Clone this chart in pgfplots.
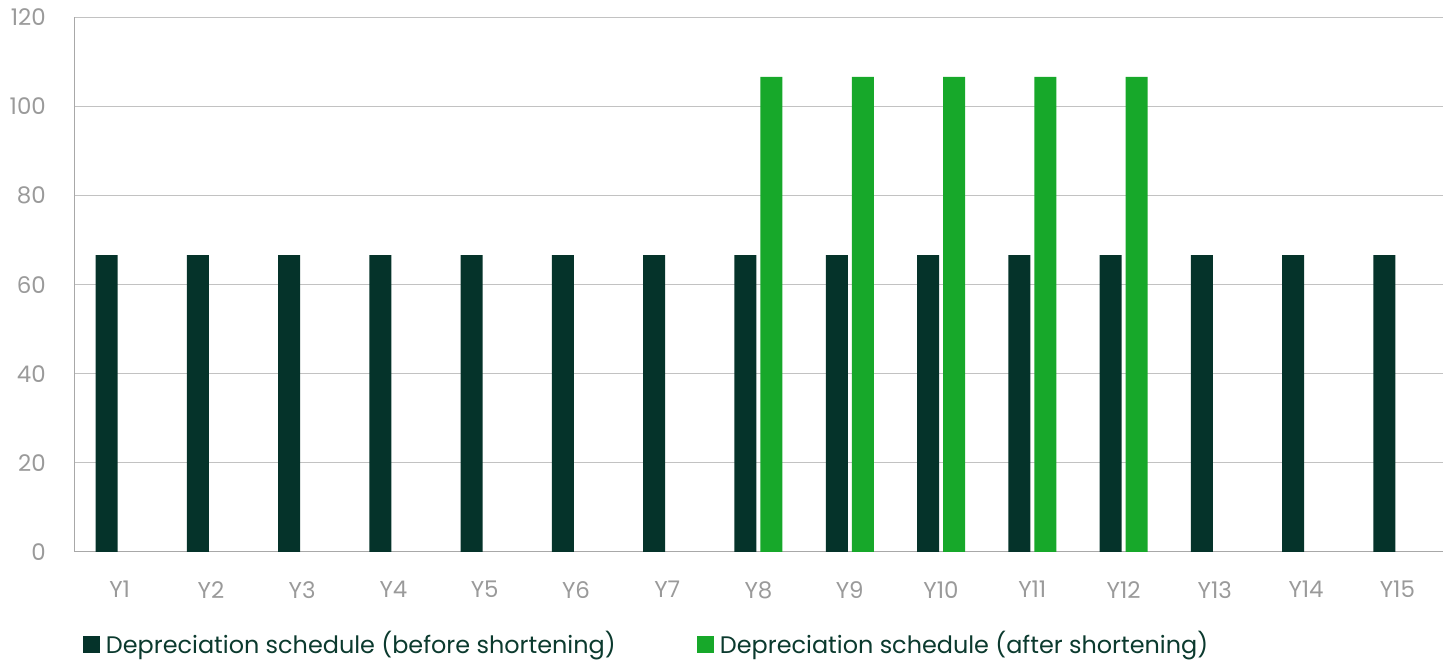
\documentclass[border=0pt]{standalone}
\usepackage{fontspec}
\setmainfont{Poppins}
\usepackage{pgfplots}
\pgfplotsset{compat=1.18}
\definecolor{before}{HTML}{05332A}
\definecolor{after}{HTML}{17A82A}
\definecolor{ticktext}{HTML}{9A9A9A}
\definecolor{gridc}{HTML}{C2C2C2}
\definecolor{axisc}{HTML}{A8A8A8}
\definecolor{legtext}{HTML}{0B3A2E}

\begin{document}
\begin{tikzpicture}
\useasboundingbox (0,0) rectangle (1450bp,663bp);
\begin{axis}[
  at={(74bp,111bp)}, anchor=south west,
  width=1369bp, height=534.5bp, scale only axis,
  xmin=0.5, xmax=15.5, ymin=0, ymax=120,
  ytick={0,20,...,120}, xtick={1,...,15},
  xticklabels={Y1,Y2,Y3,Y4,Y5,Y6,Y7,Y8,Y9,Y10,Y11,Y12,Y13,Y14,Y15},
  ymajorgrids, grid style={gridc, line width=1bp},
  axis x line*=bottom, axis y line*=left,
  axis line style={axisc, line width=1bp, -},
  major tick length=0pt,
  tick label style={font=\fontsize{23}{27}\selectfont, text=ticktext},
  /pgf/number format/assume math mode=true,
  yticklabel style={anchor=east, inner sep=0pt, xshift=-28bp},
  xticklabel style={anchor=north, inner sep=0pt, yshift=-29bp},
  ybar, bar width=22bp,
  legend columns=-1,
  legend style={draw=none, fill=none, inner sep=0pt, outer sep=0pt,
    at={(rel axis cs:0,0)}, anchor=north west, xshift=9bp, yshift=-79bp,
    font=\fontsize{24}{28}\selectfont, text=legtext,
    nodes={inner sep=0pt, anchor=base},
    /tikz/every odd column/.append style={column sep=6bp}},
  legend image code/.code={\path[#1, draw=none] (0bp,0bp) rectangle (17bp,17bp);},
]
% straight-line schedule over 15 years
\addplot[fill=before, draw=none, bar shift=-13bp] coordinates {
  (1,66.67) (2,66.67) (3,66.67) (4,66.67) (5,66.67) (6,66.67) (7,66.67) (8,66.67)
  (9,66.67) (10,66.67) (11,66.67) (12,66.67) (13,66.67) (14,66.67) (15,66.67)};
\addlegendentry{\makebox[591bp][l]{Depreciation schedule (before shortening)}}
% remaining value spread over years 8 to 12
\addplot[fill=after, draw=none, bar shift=13bp] coordinates {
  (8,106.67) (9,106.67) (10,106.67) (11,106.67) (12,106.67)};
\addlegendentry{Depreciation schedule (after shortening)}
\end{axis}
\end{tikzpicture}
\end{document}
